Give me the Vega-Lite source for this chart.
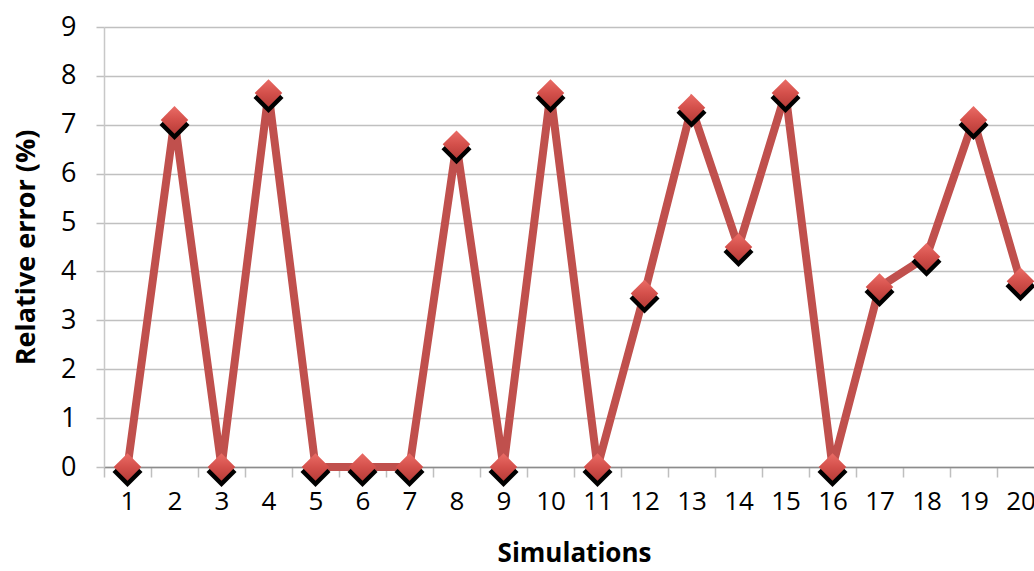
{
  "$schema": "https://vega.github.io/schema/vega-lite/v6.json",
  "autosize": "none",
  "width": 940,
  "height": 440,
  "padding": {"left": 104, "top": 27, "right": 0, "bottom": 104},
  "background": "white",
  "config": {"view": {"stroke": null}, "font": "Open Sans"},
  "data": {
    "values": [
      {"sim": "1", "err": 0},
      {"sim": "2", "err": 7.1},
      {"sim": "3", "err": 0},
      {"sim": "4", "err": 7.65},
      {"sim": "5", "err": 0},
      {"sim": "6", "err": 0},
      {"sim": "7", "err": 0},
      {"sim": "8", "err": 6.6},
      {"sim": "9", "err": 0},
      {"sim": "10", "err": 7.65},
      {"sim": "11", "err": 0},
      {"sim": "12", "err": 3.55},
      {"sim": "13", "err": 7.35},
      {"sim": "14", "err": 4.5},
      {"sim": "15", "err": 7.65},
      {"sim": "16", "err": 0},
      {"sim": "17", "err": 3.68},
      {"sim": "18", "err": 4.3},
      {"sim": "19", "err": 7.1},
      {"sim": "20", "err": 3.8}
    ]
  },
  "encoding": {
    "x": {
      "field": "sim",
      "type": "ordinal",
      "sort": null,
      "bandPosition": 0.5,
      "scale": {"type": "band", "paddingInner": 0, "paddingOuter": 0},
      "axis": {
        "title": "Simulations",
        "titleFont": "Open Sans",
        "titleFontWeight": "bold",
        "titleFontSize": 26,
        "titleColor": "#000000",
        "titleY": 86,
        "titleBaseline": "middle",
        "labelFont": "Open Sans",
        "labelFontSize": 26,
        "labelColor": "#000000",
        "labelAngle": 0,
        "labelPadding": 11,
        "labelOverlap": false,
        "tickSize": 10,
        "tickBand": "extent",
        "tickColor": "#bfbfbf",
        "tickWidth": 1.5,
        "domainColor": "#8c8c8c",
        "domainWidth": 1.5,
        "grid": false
      }
    },
    "y": {
      "field": "err",
      "type": "quantitative",
      "scale": {"domain": [0, 9], "nice": false},
      "axis": {
        "title": "Relative error (%)",
        "titleFont": "Open Sans",
        "titleFontWeight": "bold",
        "titleFontSize": 27,
        "titleColor": "#000000",
        "titleX": -78,
        "titleY": 220,
        "titleBaseline": "middle",
        "labelFont": "Open Sans",
        "labelFontSize": 27,
        "labelColor": "#000000",
        "labelPadding": 20,
        "labelOverlap": false,
        "tickSize": 8,
        "tickColor": "#bfbfbf",
        "tickWidth": 1.5,
        "values": [0, 1, 2, 3, 4, 5, 6, 7, 8, 9],
        "domainColor": "#c8c8c8",
        "domainWidth": 1.5,
        "grid": true,
        "gridColor": "#c0c0c0",
        "gridWidth": 1.5
      }
    }
  },
  "layer": [
    {
      "mark": {"type": "line", "color": "#C0504D", "strokeWidth": 8, "strokeJoin": "miter", "clip": false}
    },
    {
      "mark": {"type": "point", "shape": "diamond", "filled": true, "size": 900, "color": "#000000", "opacity": 1, "xOffset": 0, "yOffset": 5, "clip": false}
    },
    {
      "mark": {
        "type": "point",
        "shape": "diamond",
        "filled": true,
        "size": 760,
        "opacity": 1,
        "clip": false,
        "color": {
          "gradient": "linear",
          "x1": 0, "y1": 0, "x2": 0, "y2": 1,
          "stops": [
            {"offset": 0, "color": "#ea6c66"},
            {"offset": 0.5, "color": "#d4504b"},
            {"offset": 1, "color": "#b83c38"}
          ]
        }
      }
    }
  ]
}
